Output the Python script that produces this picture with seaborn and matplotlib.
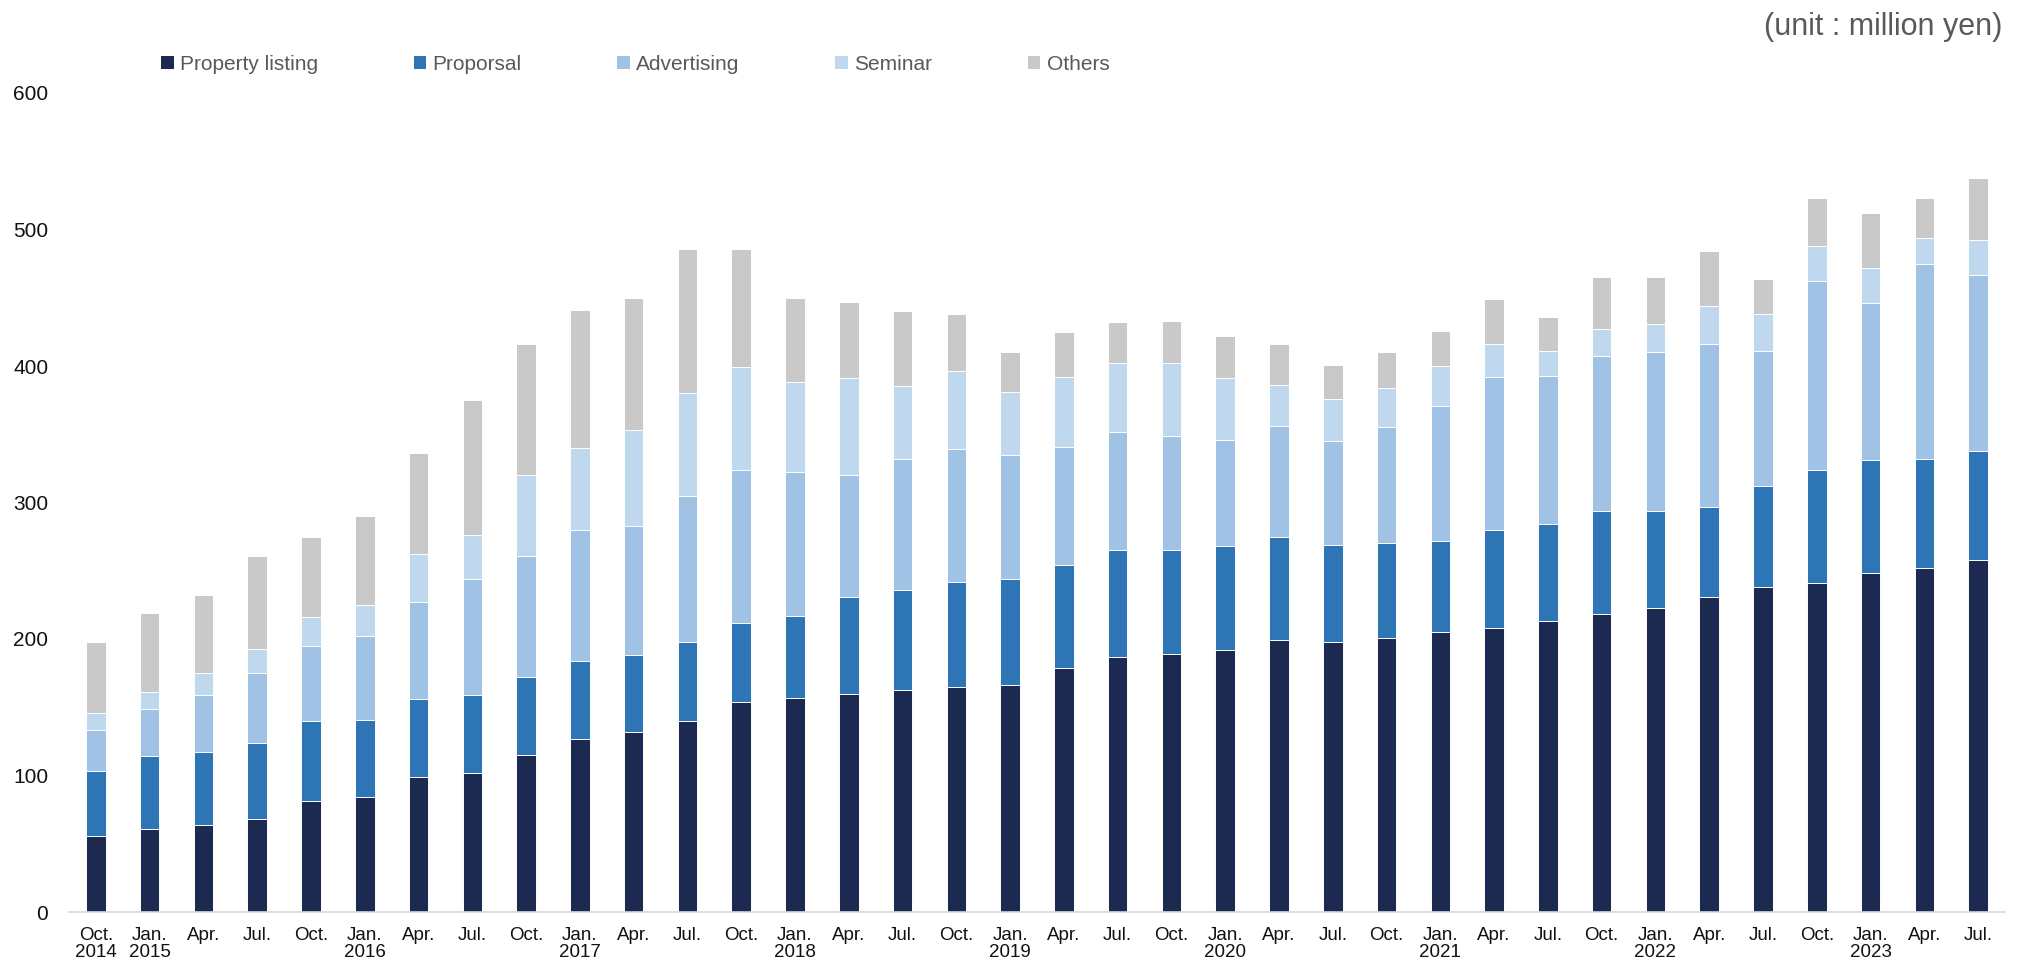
import numpy as np
import pandas as pd
import matplotlib
matplotlib.use("Agg")
import matplotlib.pyplot as plt
from matplotlib.patches import Patch
import seaborn as sns

# Quarter keys and their two-line tick labels
periods = [
    "2014-10", "2015-01", "2015-04", "2015-07", "2015-10", "2016-01", "2016-04", "2016-07",
    "2016-10", "2017-01", "2017-04", "2017-07", "2017-10", "2018-01", "2018-04", "2018-07",
    "2018-10", "2019-01", "2019-04", "2019-07", "2019-10", "2020-01", "2020-04", "2020-07",
    "2020-10", "2021-01", "2021-04", "2021-07", "2021-10", "2022-01", "2022-04", "2022-07",
    "2022-10", "2023-01", "2023-04", "2023-07",
]
tick_labels = [
    "Oct.\n2014", "Jan.\n2015", "Apr.", "Jul.", "Oct.", "Jan.\n2016", "Apr.", "Jul.",
    "Oct.", "Jan.\n2017", "Apr.", "Jul.", "Oct.", "Jan.\n2018", "Apr.", "Jul.",
    "Oct.", "Jan.\n2019", "Apr.", "Jul.", "Oct.", "Jan.\n2020", "Apr.", "Jul.",
    "Oct.", "Jan.\n2021", "Apr.", "Jul.", "Oct.", "Jan.\n2022", "Apr.", "Jul.",
    "Oct.", "Jan.\n2023", "Apr.", "Jul.",
]

# Sales by category (million yen)
property_listing = [56, 61, 64, 68, 81, 84, 99, 102, 115, 127, 132, 140, 154, 157, 160, 163, 165, 166,
                    179, 187, 189, 192, 199, 198, 201, 205, 208, 213, 218, 223, 231, 238, 241, 248, 252, 258]
proposal = [47, 53, 53, 56, 59, 57, 57, 57, 57, 57, 56, 58, 58, 60, 71, 73, 77, 78,
            75, 78, 76, 76, 76, 71, 69, 67, 72, 71, 76, 71, 66, 74, 83, 83, 80, 80]
advertising = [30, 35, 42, 51, 55, 61, 71, 85, 89, 96, 95, 107, 112, 105, 89, 96, 97, 91,
               87, 87, 84, 78, 81, 76, 85, 99, 112, 109, 113, 116, 119, 99, 138, 115, 143, 129]
seminar = [13, 12, 16, 18, 21, 23, 35, 32, 59, 60, 70, 75, 75, 66, 71, 53, 57, 46,
           51, 50, 53, 45, 30, 31, 29, 29, 24, 18, 20, 21, 28, 27, 26, 26, 19, 25]
others = [52, 58, 57, 68, 59, 65, 74, 99, 96, 101, 97, 106, 87, 62, 56, 55, 42, 29,
          33, 30, 31, 31, 30, 25, 26, 26, 33, 25, 38, 34, 40, 26, 35, 40, 29, 46]

series_names = ["Property listing", "Proporsal", "Advertising", "Seminar", "Others"]
series_values = [property_listing, proposal, advertising, seminar, others]
series_colors = ["#1c2a52", "#2e75b6", "#9fc2e5", "#bfd8ee", "#c9c9c9"]

sns.set_theme(style="white")
plt.rcParams["font.family"] = ["Liberation Sans", "DejaVu Sans"]

# Cumulative tops for stacking
df = pd.DataFrame(dict(zip(series_names, series_values)), index=periods)
cum = df.cumsum(axis=1)

fig = plt.figure(figsize=(20.22, 9.65), dpi=100)
ax = fig.add_axes([69 / 2022, 53 / 965, (2005 - 69) / 2022, 819 / 965])

# Draw from the top layer down so each lower layer covers the one above
for name, color in reversed(list(zip(series_names, series_colors))):
    layer = pd.DataFrame({"period": periods, "value": cum[name].values})
    sns.barplot(data=layer, x="period", y="value", color=color, saturation=1,
                width=0.365, edgecolor="white", linewidth=0.7, errorbar=None, ax=ax)

ax.set_ylim(0, 600)
ax.set_xlim(-0.5, len(periods) - 0.5)
ax.set_yticks(range(0, 601, 100))
ax.set_xlabel("")
ax.set_ylabel("")

ax.set_xticks(range(len(periods)))
ax.set_xticklabels(tick_labels, fontsize=13.5, color="#111111", linespacing=1.05)
ax.set_xticks(np.arange(-0.5, len(periods) - 1, 1), minor=True)
ax.tick_params(axis="x", which="major", length=0, pad=10.5)
ax.tick_params(axis="x", which="minor", length=5, width=1, color="#d9d9d9", direction="out")
ax.tick_params(axis="y", length=0, pad=15, labelsize=15, labelcolor="#111111")

for side in ["top", "right", "left"]:
    ax.spines[side].set_visible(False)
ax.spines["bottom"].set_color("#d9d9d9")
ax.spines["bottom"].set_linewidth(1.2)
ax.grid(False)

handles = [Patch(facecolor=c, edgecolor="none", label=n) for n, c in zip(series_names, series_colors)]
leg = fig.legend(handles=handles, loc="center left", bbox_to_anchor=(161 / 2022, 1 - 64 / 965),
                 ncol=5, frameon=False, fontsize=15, handlelength=0.6, handleheight=0.6,
                 handletextpad=0.3, columnspacing=4.6, borderpad=0, borderaxespad=0)
for t in leg.get_texts():
    t.set_color("#595959")

fig.text(2002 / 2022, 1 - 27.5 / 965, "(unit : million yen)", ha="right", va="center",
         fontsize=22, color="#595959")

fig.savefig("out.png", dpi=100)
